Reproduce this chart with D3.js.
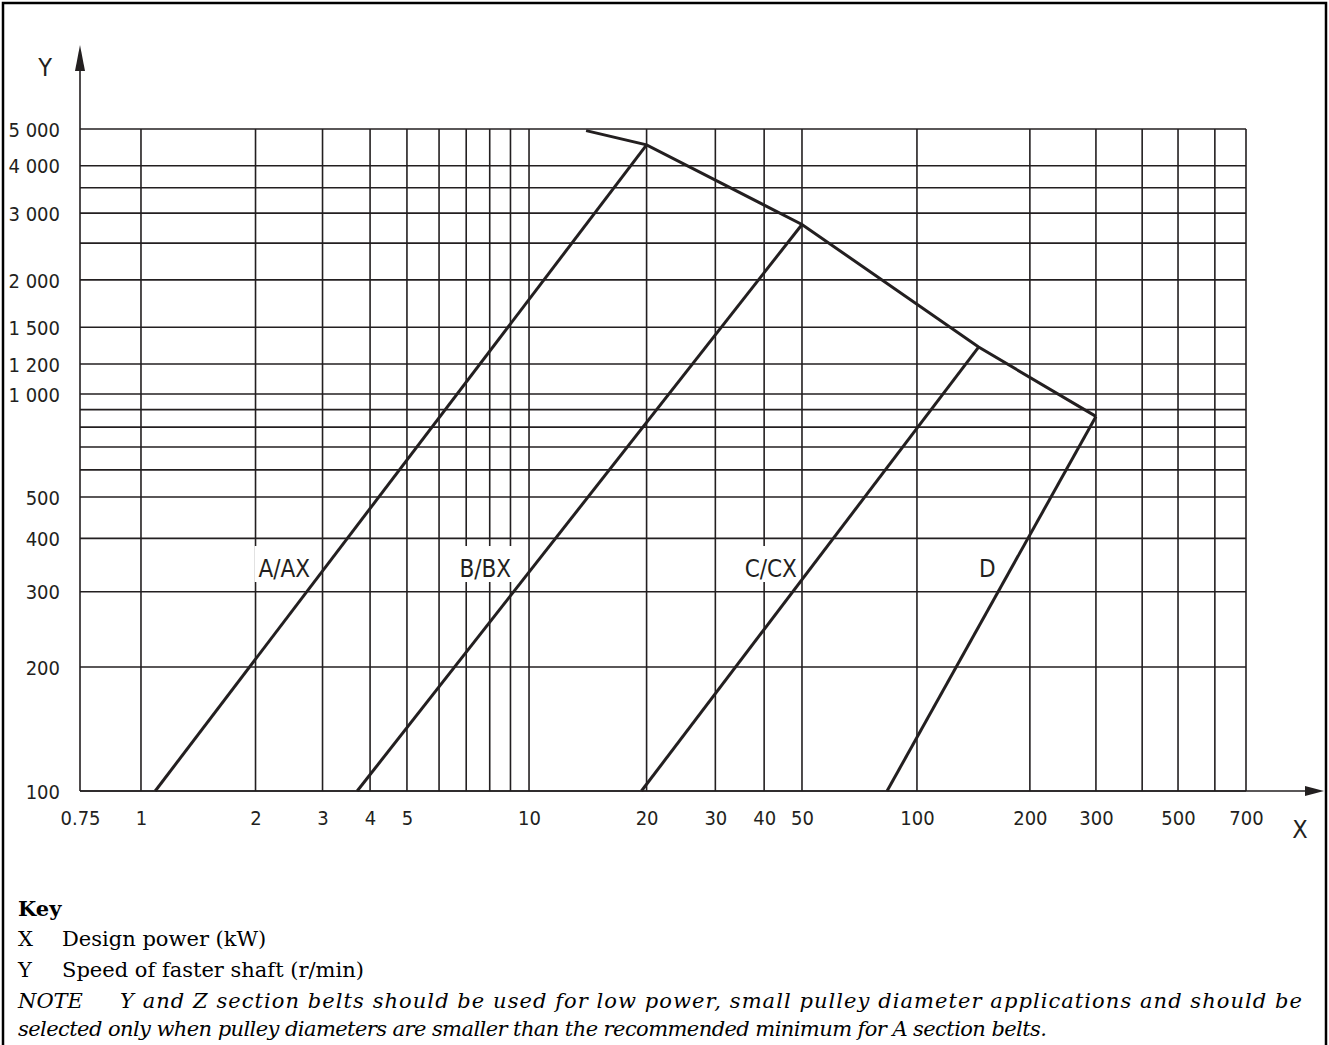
<!DOCTYPE html>
<html><head><meta charset="utf-8">
<script src="https://cdn.jsdelivr.net/npm/d3@7"></script>
<style>body{margin:0;background:#fff} svg{display:block}</style>
</head><body>
<script>
// ---------------- data ----------------
const xGridValues = [1,2,3,4,5,6,7,8,9,10,20,30,40,50,100,200,300,400,500,600,700];
const xTickValues = [0.75,1,2,3,4,5,10,20,30,40,50,100,200,300,500,700];
const xTickLabels = ["0.75","1","2","3","4","5","10","20","30","40","50","100","200","300","500","700"];
const yGridValues = [100,200,300,400,500,600,700,800,900,1000,1200,1500,2000,2500,3000,3500,4000,5000];
const yTickValues = [100,200,300,400,500,1000,1200,1500,2000,3000,4000,5000];
const yTickLabels = ["100","200","300","400","500","1 000","1 200","1 500","2 000","3 000","4 000","5 000"];

// upper limit boundary (power kW, speed r/min)
const limitPower = [14, 20, 50, 146, 300];
const limitSpeed = [4950, 4540, 2800, 1330, 860];

// belt section lines: start at 100 r/min, end on the limit boundary
const sectionNames = ["A/AX", "B/BX", "C/CX", "D"];
const sectionStartPower = [1.09, 3.7, 19.4, 83.5];
const sectionStartSpeed = [100, 100, 100, 100];
const sectionEndPower = [20, 50, 146, 300];
const sectionEndSpeed = [4540, 2800, 1330, 860];
const sectionLabelPower = [2.38, 7.8, 41.6, 154];
const sectionLabelSpeed = [341, 341, 341, 341];

const keyTitle = "Key";
const keySymbols = ["X", "Y"];
const keyTexts = ["Design power (kW)", "Speed of faster shaft (r/min)"];
const noteLabel = "NOTE";
const noteLines = ["Y and Z section belts should be used for low power, small pulley diameter applications and should be",
                   "selected only when pulley diameters are smaller than the recommended minimum for A section belts."];

// ---------------- layout ----------------
const W = 1329, H = 1045;
const pL = 80, pR = 1246, pT = 129, pB = 791;
const pw = pR - pL, ph = pB - pT;
// the printed log scales are slightly irregular; piecewise log scale knots (fraction of plot size)
const xKnots = [0.75, 1, 5, 10, 50, 100, 300, 500, 700];
const xKnotFrac = [0, 0.0523, 0.2804, 0.3851, 0.6192, 0.7178, 0.8713, 0.9417, 1];
const yKnots = [100, 200, 500, 1000, 5000];
const yKnotFrac = [0, 0.1873, 0.4441, 0.5997, 1];

const x = d3.scaleLog().domain(xKnots).range(xKnotFrac.map(f => pL + f * pw));
const y = d3.scaleLog().domain(yKnots).range(yKnotFrac.map(f => pB - f * ph));

const ink = "#231f20";
const tickFont = "'DejaVu Sans Condensed', 'DejaVu Sans', sans-serif";
const serif = "'DejaVu Serif', 'Liberation Serif', serif";

const svg = d3.select("body").append("svg").attr("width", W).attr("height", H);

// frame
svg.append("path").attr("d", `M3,${H} V3 H${W-3} V${H}`).attr("fill", "none")
  .attr("stroke", "#000").attr("stroke-width", 2.5);

// grid
const g = svg.append("g");
g.selectAll("line.vg").data(xGridValues).join("line").attr("class", "vg")
  .attr("x1", d => x(d)).attr("x2", d => x(d)).attr("y1", y(5000)).attr("y2", y(100))
  .attr("stroke", ink).attr("stroke-width", 1.6);
g.selectAll("line.hg").data(yGridValues).join("line").attr("class", "hg")
  .attr("x1", x(0.75)).attr("x2", x(700)).attr("y1", d => y(d)).attr("y2", d => y(d))
  .attr("stroke", ink).attr("stroke-width", 1.6);

// axes lines with arrows
svg.append("line").attr("x1", pL).attr("x2", pL).attr("y1", pB).attr("y2", 62)
  .attr("stroke", ink).attr("stroke-width", 1.6);
svg.append("path").attr("d", `M${pL},45 L${pL-5},71 L${pL+5},71 Z`).attr("fill", ink);
svg.append("line").attr("x1", pL).attr("x2", 1310).attr("y1", pB).attr("y2", pB)
  .attr("stroke", ink).attr("stroke-width", 1.6);
svg.append("path").attr("d", `M1324,${pB} L1305,${pB-5} L1305,${pB+5} Z`).attr("fill", ink);

svg.append("text").attr("x", 45).attr("y", 76).attr("text-anchor", "middle")
  .attr("font-family", tickFont).attr("font-size", 25).attr("fill", ink).text("Y");
svg.append("text").attr("x", 1300).attr("y", 838).attr("text-anchor", "middle")
  .attr("font-family", tickFont).attr("font-size", 25).attr("fill", ink).text("X");

// tick labels via d3 axes
const xAxis = d3.axisBottom(x).tickValues(xTickValues).tickSize(0)
  .tickFormat((d, i) => xTickLabels[i]);
const gx = svg.append("g").attr("transform", `translate(0,${pB})`).call(xAxis);
gx.select(".domain").remove();
gx.selectAll("text").attr("dy", null).attr("y", 34).attr("font-family", tickFont)
  .attr("font-size", 20).attr("fill", ink);

const yAxis = d3.axisLeft(y).tickValues(yTickValues).tickSize(0)
  .tickFormat((d, i) => yTickLabels[i]);
const gy = svg.append("g").attr("transform", `translate(${pL},0)`).call(yAxis);
gy.select(".domain").remove();
gy.selectAll("text").attr("x", -20).attr("dy", "0.36em").attr("font-family", tickFont)
  .attr("font-size", 20).attr("fill", ink);

// lines
const line = d3.line().x(d => x(d[0])).y(d => y(d[1]));
svg.append("path").datum(limitPower.map((p, i) => [p, limitSpeed[i]]))
  .attr("d", line).attr("fill", "none").attr("stroke", ink).attr("stroke-width", 3)
  .attr("stroke-linejoin", "miter");

// section labels with white boxes (boxes under the lines, text on top)
const boxG = svg.append("g");
const secG = svg.append("g");
const labG = svg.append("g");
sectionNames.forEach((name, i) => {
  const lx = x(sectionLabelPower[i]), ly = y(sectionLabelSpeed[i]);
  const t = labG.append("text").attr("x", lx).attr("y", ly + 9).attr("text-anchor", "middle")
    .attr("font-family", tickFont).attr("font-size", 24).attr("fill", ink).text(name);
  const w = t.node().getComputedTextLength();
  boxG.append("rect").attr("x", lx - w / 2 - 4).attr("y", ly - 22)
    .attr("width", w + 8).attr("height", 36).attr("fill", "#fff");
  secG.append("path").datum([[sectionStartPower[i], sectionStartSpeed[i]], [sectionEndPower[i], sectionEndSpeed[i]]])
    .attr("d", line).attr("fill", "none").attr("stroke", ink).attr("stroke-width", 3);
});

// key
const kg = svg.append("g").attr("font-family", serif).attr("fill", "#000").attr("font-size", 21);
kg.append("text").attr("x", 18).attr("y", 916).attr("font-weight", "bold").text(keyTitle);
keySymbols.forEach((s, i) => {
  kg.append("text").attr("x", 18).attr("y", 946 + i * 31).text(s);
  kg.append("text").attr("x", 62).attr("y", 946 + i * 31).text(keyTexts[i]);
});
kg.append("text").attr("x", 18).attr("y", 1008).attr("font-style", "italic").text(noteLabel);
kg.append("text").attr("x", 120).attr("y", 1008).attr("font-style", "italic")
  .attr("textLength", 1182).attr("lengthAdjust", "spacing").text(noteLines[0]);
kg.append("text").attr("x", 18).attr("y", 1036).attr("font-style", "italic")
  .attr("textLength", 1029).attr("lengthAdjust", "spacing").text(noteLines[1]);
</script>
</body></html>
